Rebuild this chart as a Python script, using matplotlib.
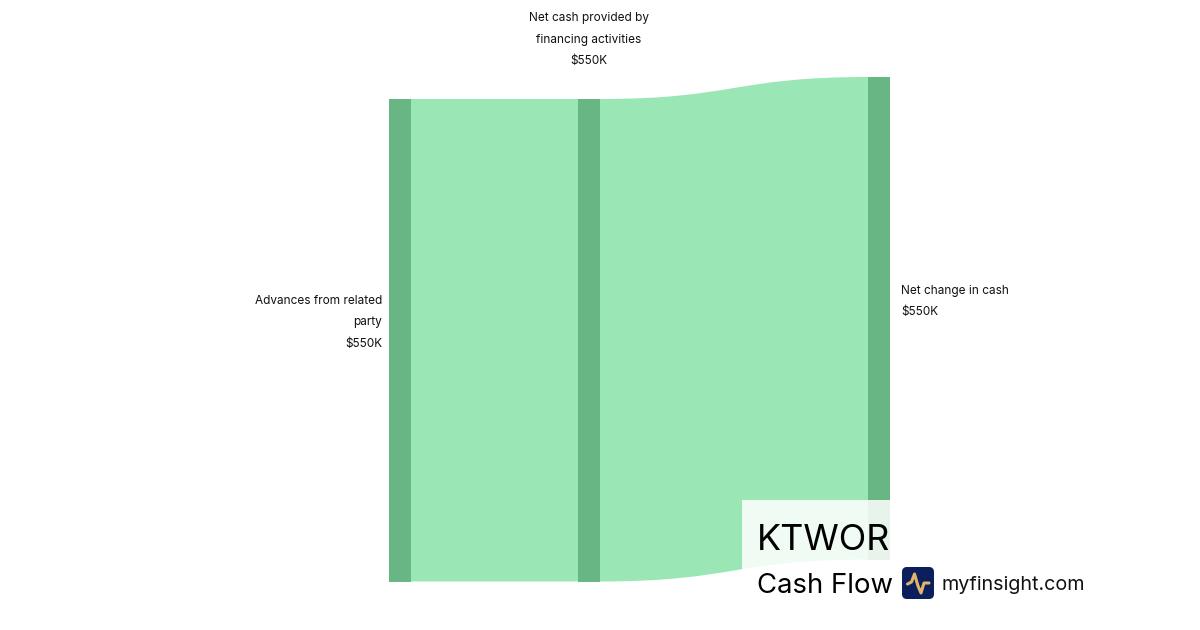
import matplotlib
matplotlib.use("Agg")
import matplotlib.pyplot as plt
from matplotlib.patches import PathPatch, Rectangle, FancyBboxPatch
from matplotlib.path import Path

plt.rcParams['font.family'] = ['Inter', 'DejaVu Sans']

# Data
node_names = ["Advances from related\nparty", "Net cash provided by\nfinancing activities", "Net change in cash"]
node_values = [550, 550, 550]
value_labels = ["$550K", "$550K", "$550K"]
link_sources = [0, 1]
link_targets = [1, 2]
link_values = [550, 550]
ticker = "KTWOR"
subtitle = "Cash Flow"
site = "myfinsight.com"

# Layout (pixels)
PX_PER_K = 482.5 / 550
NODE_W = 22
node_x = [389, 578, 868]
node_top = [99, 99, 77]
NODE_C = "#68B684"
LINK_C = "#9AE6B4"
TXT = "#111111"

fig = plt.figure(figsize=(12, 6.3), dpi=100)
ax = fig.add_axes([0, 0, 1, 1])
ax.set_xlim(0, 1200)
ax.set_ylim(630, 0)
ax.axis("off")

for s, t, v in zip(link_sources, link_targets, link_values):
    h = v * PX_PER_K
    x0 = node_x[s] + NODE_W
    x1 = node_x[t]
    y0, y1 = node_top[s], node_top[t]
    xm = (x0 + x1) / 2
    verts = [(x0, y0), (xm, y0), (xm, y1), (x1, y1),
             (x1, y1 + h), (xm, y1 + h), (xm, y0 + h), (x0, y0 + h), (x0, y0)]
    codes = [Path.MOVETO, Path.CURVE4, Path.CURVE4, Path.CURVE4,
             Path.LINETO, Path.CURVE4, Path.CURVE4, Path.CURVE4, Path.CLOSEPOLY]
    ax.add_patch(PathPatch(Path(verts, codes), fc=LINK_C, ec="none", zorder=1))

for x, top, v in zip(node_x, node_top, node_values):
    ax.add_patch(Rectangle((x, top), NODE_W, v * PX_PER_K, fc=NODE_C, ec="none", zorder=2))

LS = 8.5
LH = 2.04
ax.text(382, 322.5, f"{node_names[0]}\n{value_labels[0]}", ha="right", va="center",
        fontsize=LS, color=TXT, linespacing=LH, zorder=3, multialignment="right")
ax.text(589, 39.5, f"{node_names[1]}\n{value_labels[1]}", ha="center", va="center",
        fontsize=LS, color=TXT, linespacing=LH, zorder=3, multialignment="center")
ax.text(901, 301.5, f"{node_names[2]}\n{value_labels[2]}", ha="left", va="center",
        fontsize=LS, color=TXT, linespacing=LH, zorder=3, multialignment="left")

# Watermark
ax.add_patch(Rectangle((742, 500), 148, 80, fc="white", ec="none", alpha=0.85, zorder=4))
ax.text(757, 537, ticker, ha="left", va="center_baseline", fontsize=25.9, color="#000000", zorder=5)
ax.text(757, 583, subtitle, ha="left", va="center_baseline", fontsize=19.8, color="#000000", zorder=5)
ax.text(941.5, 583, site, ha="left", va="center_baseline", fontsize=14.2, color="#111111", zorder=5)

ax.add_patch(FancyBboxPatch((905, 570), 26, 26, boxstyle="round,pad=3,rounding_size=5",
                            fc="#0A1F5C", ec="none", zorder=5))
ax.plot([907.5, 911.5, 914.5, 918, 921, 924, 929], [584, 582, 574, 586, 593, 583, 583],
        color="#E3B26B", lw=2.2, solid_capstyle="round", solid_joinstyle="round", zorder=6)

fig.savefig("out.png", dpi=100)
